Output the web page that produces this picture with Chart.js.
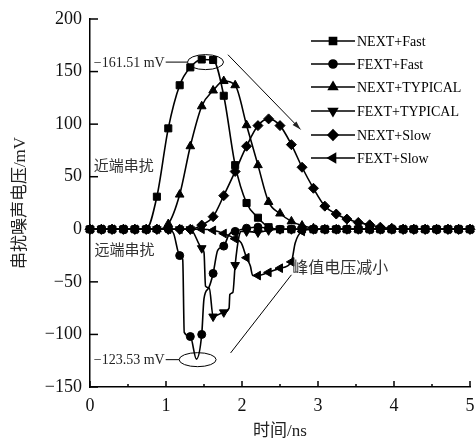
<!DOCTYPE html>
<html>
<head>
<meta charset="utf-8">
<script src="https://cdn.jsdelivr.net/npm/chart.js@4.4.0/dist/chart.umd.min.js"></script>
<style>
  body { margin: 0; background: #fff; }
  canvas { display: block; }
</style>
</head>
<body>
<canvas id="chart" width="476" height="442"></canvas>
<script>
// sample times (ns) where markers sit
const times = [0, 0.15, 0.29, 0.44, 0.59, 0.74, 0.88, 1.03, 1.18, 1.32, 1.47, 1.62, 1.76, 1.91, 2.06, 2.21, 2.35,
    2.50, 2.65, 2.79, 2.94, 3.09, 3.24, 3.38, 3.53, 3.68, 3.82, 3.97, 4.12, 4.26, 4.41, 4.56, 4.71, 4.85, 5.00];

// crosstalk voltage (mV) at each time above
const nextFast = [0, 0, 0, 0, 0, 0, 31, 96, 137, 154, 161.5, 161, 127, 61, 25, 11, 2,
    0, 0, 0, 0, 0, 0, 0, 0, 0, 0, 0, 0, 0, 0, 0, 0, 0, 0];
const fextFast = [0, 0, 0, 0, 0, 0, 0, 0, -25, -102, -100, -42, -16, -2, 1, 2, 1,
    0, 0, 0, 0, 0, 0, 0, 0, 0, 0, 0, 0, 0, 0, 0, 0, 0, 0];
const nextTypical = [0, 0, 0, 0, 0, 0, 0, 5, 33, 79, 117, 132, 141, 137, 99, 61, 26,
    15, 7.5, 3.5, 1, 0, 0, 0, 0, 0, 0, 0, 0, 0, 0, 0, 0, 0, 0];
const fextTypical = [0, 0, 0, 0, 0, 0, 0, 0, 0, 0, -18, -83, -79, -34, -2, -3, -1,
    0, 0, 0, 0, 0, 0, 0, 0, 0, 0, 0, 0, 0, 0, 0, 0, 0, 0];
const nextSlow = [0, 0, 0, 0, 0, 0, 0, 0, 0, 0, 4, 12, 32, 55, 79, 98.6, 105,
    98.6, 80.5, 59, 39, 22, 14.5, 9.7, 6.5, 4.3, 2, 1, 0, 0, 0, 0, 0, 0, 0];
const fextSlow = [0, 0, 0, 0, 0, 0, 0, 0, 0, 0, 0, -1, -4, -9, -27, -44, -41,
    -37, -31, -2, 0, 0, 0, 0, 0, 0, 0, 0, 0, 0, 0, 0, 0, 0, 0];

// extra corners of the traces between markers [ns, mV]
const fextFastExtra = [[1.10, -4], [1.22, -29], [1.24, -98], [1.40, -123.53], [1.50, -66], [1.56, -56], [1.68, -20], [1.83, -5]];
const fextTypicalExtra = [[1.50, -22], [1.52, -54], [1.57, -56], [1.83, -75], [1.84, -62], [1.88, -60], [1.96, -7], [1.99, -2]];
const fextSlowExtra = [[1.99, -13], [2.11, -35], [2.14, -44], [2.70, -13]];

const labels = ['NEXT+Fast', 'FEXT+Fast', 'NEXT+TYPICAL', 'FEXT+TYPICAL', 'NEXT+Slow', 'FEXT+Slow'];
const yTicks = [-150, -100, -50, 0, 50, 100, 150, 200];

const serif = "'Liberation Serif', 'Noto Sans CJK SC', serif";
const cjk = "'Noto Sans CJK SC', sans-serif";

function buildSeries(values, extra) {
    const pts = values.map((v, i) => ({ x: times[i], y: v, marker: true }));
    (extra || []).forEach(([x, y]) => pts.push({ x: x, y: y, marker: false }));
    pts.sort((a, b) => a.x - b.x);
    return pts;
}

const markers = [
    { style: 'rect', radius: 5, rotation: 0 },
    { style: 'circle', radius: 4, rotation: 0 },
    { style: 'triangle', radius: 5, rotation: 0 },
    { style: 'triangle', radius: 5, rotation: 180 },
    { style: 'rectRot', radius: 5, rotation: 0 },
    { style: 'triangle', radius: 5, rotation: -90 }
];

const series = [
    buildSeries(nextFast),
    buildSeries(fextFast, fextFastExtra),
    buildSeries(nextTypical),
    buildSeries(fextTypical, fextTypicalExtra),
    buildSeries(nextSlow),
    buildSeries(fextSlow, fextSlowExtra)
];

const datasets = series.map((data, i) => ({
    label: labels[i],
    data: data,
    borderColor: '#000',
    backgroundColor: '#000',
    borderWidth: 1.6,
    pointStyle: markers[i].style,
    pointRotation: markers[i].rotation,
    pointRadius: ctx => (ctx.raw && ctx.raw.marker) ? markers[i].radius : 0,
    pointHoverRadius: 0,
    pointBackgroundColor: '#000',
    pointBorderColor: '#000',
    pointBorderWidth: 1,
    cubicInterpolationMode: 'monotone',
    clip: false
}));

function line(ctx, x1, y1, x2, y2) {
    ctx.beginPath();
    ctx.moveTo(x1, y1);
    ctx.lineTo(x2, y2);
    ctx.stroke();
}

const extrasPlugin = {
    id: 'extras',
    afterDraw(chart) {
        const ctx = chart.ctx;
        const xs = chart.scales.x;
        const ys = chart.scales.y;
        const area = chart.chartArea;
        ctx.save();
        ctx.strokeStyle = '#000';
        ctx.fillStyle = '#000';
        ctx.lineWidth = 1.5;

        // inward ticks
        ys.ticks.forEach(t => {
            const py = ys.getPixelForValue(t.value);
            line(ctx, area.left, py, area.left + 8, py);
        });
        xs.ticks.forEach((t, i) => {
            const px = xs.getPixelForValue(t.value);
            line(ctx, px, area.bottom, px, area.bottom - 6);
            if (i < xs.ticks.length - 1) {
                const mx = xs.getPixelForValue(t.value + 0.5);
                line(ctx, mx, area.bottom, mx, area.bottom - 3);
            }
        });

        // legend: line with marker, then text
        const rowY = [41, 64, 87, 111, 135, 158];
        ctx.font = '14px ' + serif;
        ctx.textBaseline = 'middle';
        ctx.textAlign = 'left';
        labels.forEach((lab, i) => {
            const y = rowY[i];
            ctx.lineWidth = 1.6;
            line(ctx, 311, y, 355, y);
            Chart.helpers.drawPoint(ctx, {
                pointStyle: markers[i].style,
                radius: markers[i].radius,
                rotation: markers[i].rotation,
                borderWidth: 1
            }, 333, y);
            ctx.fillStyle = '#000';
            ctx.fillText(lab, 357, y + 1);
        });

        // peak annotations
        ctx.lineWidth = 1;
        ctx.fillStyle = '#222';
        ctx.font = '14px ' + serif;
        const e1x = xs.getPixelForValue(1.52), e1y = ys.getPixelForValue(159);
        ctx.beginPath();
        ctx.ellipse(e1x, e1y, 18, 7.5, 0, 0, Math.PI * 2);
        ctx.stroke();
        const t1 = '\u2212161.51 mV';
        const t1x = xs.getPixelForValue(0.05);
        ctx.fillText(t1, t1x, e1y + 1);
        line(ctx, t1x + ctx.measureText(t1).width + 1, e1y, e1x - 18, e1y);

        const e2x = xs.getPixelForValue(1.416), e2y = ys.getPixelForValue(-124);
        ctx.beginPath();
        ctx.ellipse(e2x, e2y, 18.5, 7, 0, 0, Math.PI * 2);
        ctx.stroke();
        const t2 = '\u2212123.53 mV';
        ctx.fillText(t2, t1x, e2y + 1);
        line(ctx, t1x + ctx.measureText(t2).width + 1, e2y, e2x - 18.5, e2y);

        // arrow over the NEXT peaks
        const ax1 = xs.getPixelForValue(1.815), ay1 = ys.getPixelForValue(166);
        const ax2 = xs.getPixelForValue(2.77), ay2 = ys.getPixelForValue(95);
        line(ctx, ax1, ay1, ax2, ay2);
        const ang = Math.atan2(ay2 - ay1, ax2 - ax1);
        ctx.beginPath();
        ctx.moveTo(ax2, ay2);
        ctx.lineTo(ax2 - 9 * Math.cos(ang - 0.3), ay2 - 9 * Math.sin(ang - 0.3));
        ctx.lineTo(ax2 - 9 * Math.cos(ang + 0.3), ay2 - 9 * Math.sin(ang + 0.3));
        ctx.closePath();
        ctx.fill();

        // leader to 峰值电压减小
        line(ctx, xs.getPixelForValue(1.85), ys.getPixelForValue(-117.6),
            xs.getPixelForValue(2.65), ys.getPixelForValue(-43.3));

        ctx.fillStyle = '#333';
        ctx.font = '16px ' + cjk;
        ctx.fillText('峰值电压减小', xs.getPixelForValue(2.66), ys.getPixelForValue(-35.4));
        ctx.font = '15px ' + cjk;
        ctx.fillText('近端串扰', xs.getPixelForValue(0.05), ys.getPixelForValue(61));
        ctx.fillText('远端串扰', xs.getPixelForValue(0.06), ys.getPixelForValue(-19));
        ctx.restore();
    }
};

new Chart(document.getElementById('chart'), {
    type: 'line',
    data: { datasets: datasets },
    options: {
        responsive: false,
        animation: false,
        events: [],
        layout: { padding: { top: 19, right: 3, left: 0, bottom: 0 } },
        plugins: {
            legend: { display: false },
            tooltip: { enabled: false }
        },
        scales: {
            x: {
                type: 'linear',
                min: 0,
                max: 5,
                ticks: {
                    stepSize: 1,
                    padding: 8,
                    color: '#111',
                    font: { family: serif, size: 18 }
                },
                grid: { drawOnChartArea: false, drawTicks: false },
                border: { color: '#000', width: 1.5 },
                title: {
                    display: true,
                    text: '时间/ns',
                    color: '#222',
                    font: { family: serif, size: 17 },
                    padding: { top: 0, bottom: 0 }
                },
                afterFit(scale) {
                    scale.height = 55;
                    scale.paddingLeft = 0;
                    scale.paddingRight = 0;
                }
            },
            y: {
                min: -150,
                max: 200,
                afterBuildTicks(scale) {
                    scale.ticks = yTicks.map(v => ({ value: v }));
                },
                ticks: {
                    padding: 8,
                    color: '#111',
                    font: { family: serif, size: 18 },
                    callback: v => v < 0 ? '\u2212' + Math.abs(v) : String(v)
                },
                grid: { drawOnChartArea: false, drawTicks: false },
                border: { color: '#000', width: 1.5 },
                title: {
                    display: true,
                    text: '串扰噪声电压/mV',
                    color: '#222',
                    font: { family: serif, size: 17 },
                    padding: { top: 10, bottom: 0 }
                },
                afterFit(scale) {
                    scale.width = 90;
                    scale.paddingTop = 0;
                    scale.paddingBottom = 0;
                }
            }
        }
    },
    plugins: [extrasPlugin]
});
</script>
</body>
</html>
